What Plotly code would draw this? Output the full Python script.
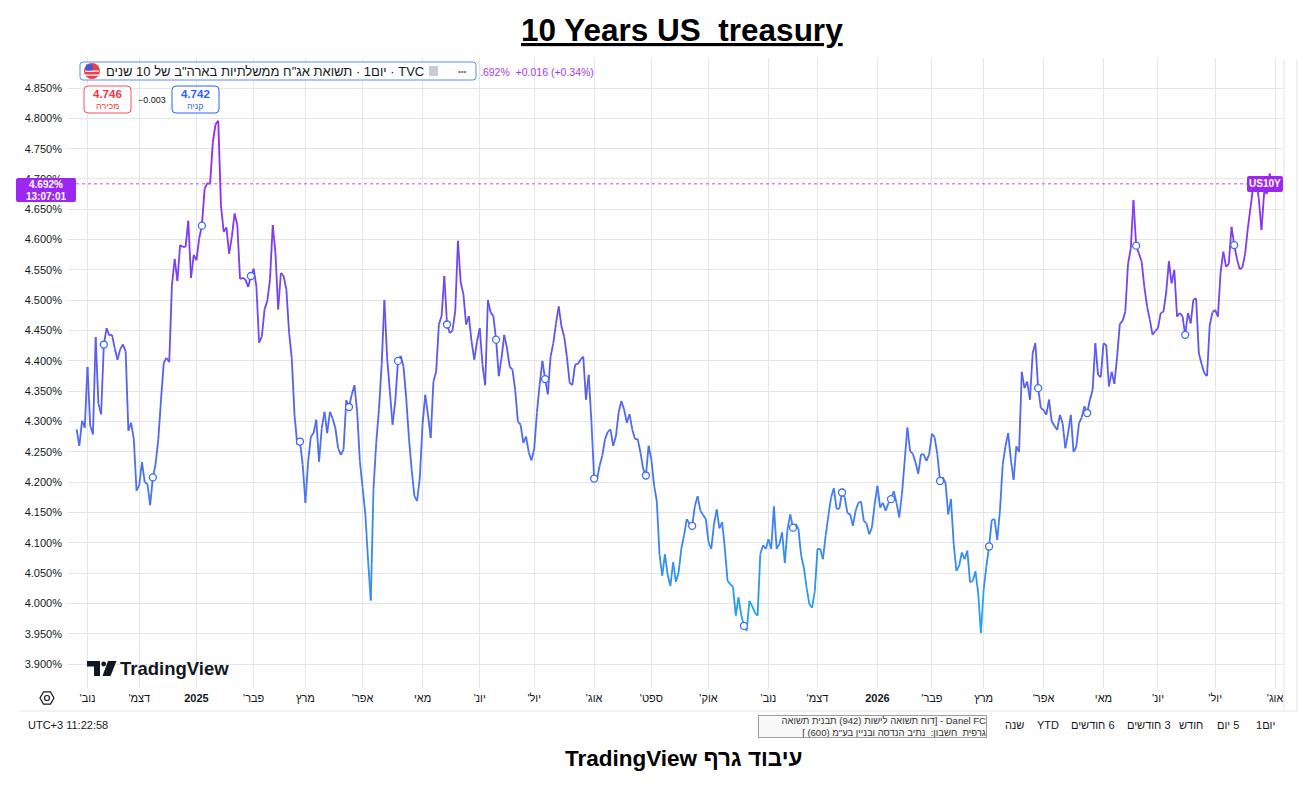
import numpy as np
import pandas as pd
import plotly.graph_objects as go
from plotly.colors import sample_colorscale
from pandas.tseries.holiday import USFederalHolidayCalendar
from pandas.tseries.offsets import CustomBusinessDay

# --- data (daily close, %, one value per trading day) ---
start_date = "2024-10-28"
yields = [
    4.287, 4.260, 4.301, 4.290, 4.390, 4.293, 4.279, 4.439, 4.330, 4.312,
    4.427, 4.454, 4.442, 4.443, 4.421, 4.402, 4.419, 4.427, 4.416, 4.285,
    4.298, 4.271, 4.186, 4.195, 4.233, 4.200, 4.197, 4.162, 4.208, 4.230,
    4.271, 4.337, 4.397, 4.405, 4.398, 4.525, 4.568, 4.532, 4.591, 4.588,
    4.588, 4.631, 4.537, 4.575, 4.566, 4.602, 4.623, 4.684, 4.693, 4.692,
    4.760, 4.790, 4.796, 4.656, 4.613, 4.620, 4.577, 4.605, 4.643, 4.624,
    4.535, 4.537, 4.534, 4.522, 4.540, 4.552, 4.523, 4.430, 4.440, 4.485,
    4.499, 4.534, 4.624, 4.578, 4.485, 4.545, 4.540, 4.518, 4.447, 4.404,
    4.311, 4.262, 4.267, 4.229, 4.166, 4.234, 4.275, 4.281, 4.303, 4.234,
    4.289, 4.316, 4.281, 4.316, 4.305, 4.289, 4.256, 4.245, 4.254, 4.335,
    4.324, 4.344, 4.360, 4.316, 4.234, 4.191, 4.147, 4.071, 4.005, 4.190,
    4.265, 4.320, 4.394, 4.500, 4.405, 4.350, 4.295, 4.334, 4.400, 4.408,
    4.391, 4.339, 4.273, 4.221, 4.177, 4.169, 4.207, 4.295, 4.344, 4.311,
    4.273, 4.366, 4.382, 4.460, 4.474, 4.540, 4.460, 4.446, 4.450, 4.482,
    4.598, 4.530, 4.510, 4.460, 4.474, 4.432, 4.402, 4.432, 4.454, 4.394,
    4.360, 4.500, 4.480, 4.474, 4.435, 4.375, 4.405, 4.443, 4.421, 4.390,
    4.386, 4.353, 4.300, 4.295, 4.265, 4.275, 4.249, 4.236, 4.255, 4.315,
    4.361, 4.400, 4.370, 4.345, 4.407, 4.429, 4.462, 4.490, 4.457, 4.440,
    4.407, 4.364, 4.360, 4.394, 4.395, 4.402, 4.407, 4.336, 4.377, 4.300,
    4.206, 4.203, 4.227, 4.244, 4.271, 4.283, 4.287, 4.260, 4.276, 4.315,
    4.334, 4.320, 4.298, 4.312, 4.287, 4.271, 4.271, 4.249, 4.222, 4.211,
    4.260, 4.238, 4.195, 4.169, 4.081, 4.046, 4.081, 4.047, 4.029, 4.068,
    4.036, 4.051, 4.090, 4.112, 4.139, 4.131, 4.128, 4.161, 4.177, 4.153,
    4.146, 4.139, 4.101, 4.090, 4.131, 4.155, 4.124, 4.134, 4.090, 4.037,
    4.032, 4.027, 3.980, 4.010, 3.981, 3.963, 3.955, 4.004, 3.996, 3.985,
    3.980, 4.081, 4.096, 4.090, 4.106, 4.090, 4.160, 4.090, 4.098, 4.117,
    4.067, 4.123, 4.147, 4.125, 4.131, 4.123, 4.079, 4.059, 4.026, 3.999,
    3.993, 4.020, 4.090, 4.090, 4.073, 4.112, 4.145, 4.175, 4.190, 4.156,
    4.156, 4.183, 4.175, 4.149, 4.147, 4.128, 4.153, 4.166, 4.168, 4.136,
    4.132, 4.114, 4.126, 4.164, 4.194, 4.158, 4.166, 4.153, 4.165, 4.172,
    4.185, 4.166, 4.142, 4.180, 4.235, 4.290, 4.251, 4.247, 4.232, 4.214,
    4.246, 4.246, 4.235, 4.246, 4.280, 4.274, 4.246, 4.202, 4.208, 4.199,
    4.147, 4.172, 4.098, 4.054, 4.062, 4.084, 4.073, 4.087, 4.035, 4.037,
    4.053, 4.017, 3.951, 4.023, 4.061, 4.094, 4.138, 4.139, 4.105, 4.154,
    4.229, 4.259, 4.281, 4.237, 4.204, 4.259, 4.250, 4.382, 4.355, 4.366,
    4.336, 4.413, 4.429, 4.355, 4.322, 4.319, 4.311, 4.336, 4.300, 4.293,
    4.286, 4.311, 4.297, 4.256, 4.281, 4.311, 4.250, 4.258, 4.297, 4.307,
    4.325, 4.314, 4.336, 4.352, 4.429, 4.377, 4.373, 4.429, 4.426, 4.358,
    4.382, 4.362, 4.407, 4.461, 4.466, 4.481, 4.560, 4.585, 4.665, 4.590,
    4.577, 4.564, 4.522, 4.490, 4.468, 4.443, 4.449, 4.454, 4.479, 4.481,
    4.512, 4.564, 4.528, 4.550, 4.473, 4.479, 4.474, 4.443, 4.479, 4.462,
    4.501, 4.503, 4.413, 4.395, 4.380, 4.375, 4.459, 4.480, 4.484, 4.473,
    4.547, 4.580, 4.555, 4.560, 4.621, 4.591, 4.568, 4.551, 4.554, 4.577,
    4.619, 4.654, 4.690, 4.698, 4.668, 4.616, 4.679, 4.676, 4.709, 4.685,
    4.700, 4.692,
]
event_idx = [10, 28, 46, 64, 82, 100, 118, 136, 154, 172, 190, 209,
             226, 245, 263, 281, 299, 317, 335, 353, 371, 389, 407, 425]
last_value = 4.692

month_labels = ["נוב'", "דצמ'", "2025", "פבר'", "מרץ", "אפר'", "מאי", "יונ'",
                "יול'", "אוג'", "ספט'", "אוק'", "נוב'", "דצמ'", "2026", "פבר'",
                "מרץ", "אפר'", "מאי", "יונ'", "יול'", "אוג'"]
y_ticks = [3.90, 3.95, 4.00, 4.05, 4.10, 4.15, 4.20, 4.25, 4.30, 4.35,
           4.40, 4.45, 4.50, 4.55, 4.60, 4.65, 4.70, 4.75, 4.80, 4.85]
y_labels = ["3.900%", "3.950%", "4.000%", "4.050%", "4.100%", "4.150%",
            "4.200%", "4.250%", "4.300%", "4.350%", "4.400%", "4.450%",
            "4.500%", "4.550%", "4.600%", "4.650%", "4.700%", "4.750%",
            "4.800%", "4.850%"]
range_buttons = ["שנה", "YTD", "6 חודשים", "3 חודשים", "חודש", "5 יום", "יום1"]
button_x = [1014, 1048, 1093, 1149, 1191, 1228, 1265]

# trading-day calendar (TradingView skips weekends and holidays)
cal = CustomBusinessDay(calendar=USFederalHolidayCalendar())
dates = pd.date_range(start_date, periods=len(yields), freq=cal)
month_starts = pd.date_range("2024-11-01", "2026-08-01", freq="MS")
tick_idx = [int(np.searchsorted(dates.values, m.to_datetime64())) for m in month_starts]

RLE, PDF = "\u202b", "\u202c"
tick_text = []
for lab in month_labels:
    if lab.isdigit():
        tick_text.append("<b>" + lab + "</b>")
    else:
        tick_text.append(RLE + lab + PDF)

# --- layout helpers (reference pixel -> paper) ---
W, H = 1308, 786
OFF = 8          # page body margin shifts the figure by 8px
L, R, T, B = 68, 1283, 58, 688
FONT = "Liberation Sans, DejaVu Sans, Arial, sans-serif"
INK = "#131722"
PURPLE = "#9c27f0"


def fx(p):
    return (p - L) / (R - L)


def fy(p):
    return (B - p) / (B - T)


def rrect(x0, y0, x1, y1, r=3):
    pts = [f"M{fx(x0 + r)},{fy(y0)}", f"L{fx(x1 - r)},{fy(y0)}",
           f"Q{fx(x1)},{fy(y0)} {fx(x1)},{fy(y0 + r)}",
           f"L{fx(x1)},{fy(y1 - r)}", f"Q{fx(x1)},{fy(y1)} {fx(x1 - r)},{fy(y1)}",
           f"L{fx(x0 + r)},{fy(y1)}", f"Q{fx(x0)},{fy(y1)} {fx(x0)},{fy(y1 - r)}",
           f"L{fx(x0)},{fy(y0 + r)}", f"Q{fx(x0)},{fy(y0)} {fx(x0 + r)},{fy(y0)}", "Z"]
    return " ".join(pts)


def poly(points):
    s = " ".join(("M" if k == 0 else "L") + f"{fx(a)},{fy(b)}" for k, (a, b) in enumerate(points))
    return s + " Z"


fig = go.Figure()

# gradient line: segments binned by level (purple high -> blue low)
x = np.arange(len(yields))
scale = [[0.0, "#1fa8f2"], [0.18, "#3b86f1"], [0.35, "#4c6ff1"],
         [0.55, "#5d58f0"], [0.75, "#7f3cf0"], [1.0, "#a21ff0"]]
lo, hi, nb = 3.95, 4.80, 40
seg_x = [[] for _ in range(nb)]
seg_y = [[] for _ in range(nb)]
for i in range(len(yields) - 1):
    v = (yields[i] + yields[i + 1]) / 2
    t = min(max((v - lo) / (hi - lo), 0), 1)
    b = min(int(t * nb), nb - 1)
    seg_x[b] += [x[i], x[i + 1], None]
    seg_y[b] += [yields[i], yields[i + 1], None]
cols = sample_colorscale(scale, [(b + 0.5) / nb for b in range(nb)])
for b in range(nb):
    if seg_x[b]:
        fig.add_trace(go.Scatter(x=seg_x[b], y=seg_y[b], mode="lines",
                                 line=dict(color=cols[b], width=1.8),
                                 hoverinfo="skip"))

fig.add_trace(go.Scatter(x=event_idx, y=[yields[i] for i in event_idx], mode="markers",
                         marker=dict(size=7, color="white",
                                     line=dict(color="#3d6af2", width=1.3)),
                         hoverinfo="skip"))

shapes = []
ann = []


def text(xp, yp, s, size=11, color=INK, xanchor="center", **kw):
    ann.append(dict(x=fx(xp), y=fy(yp), xref="paper", yref="paper", text=s,
                    showarrow=False, xanchor=xanchor, yanchor="middle",
                    font=dict(family=FONT, size=size, color=color), **kw))


# current price dotted line
shapes.append(dict(type="line", xref="paper", yref="y", x0=fx(76), x1=fx(1247),
                   y0=last_value, y1=last_value,
                   line=dict(color="#b055f0", width=1, dash="dot")))

# top thin line and bottom separator, right border
shapes.append(dict(type="line", xref="paper", yref="paper", x0=fx(80), x1=fx(1290),
                   y0=fy(2), y1=fy(2), line=dict(color="#b7c9e8", width=1)))
shapes.append(dict(type="line", xref="paper", yref="paper", x0=fx(20), x1=fx(1297),
                   y0=fy(711), y1=fy(711), line=dict(color="#e0e3eb", width=1)))
shapes.append(dict(type="line", xref="paper", yref="paper", x0=fx(1284), x1=fx(1284),
                   y0=fy(60), y1=fy(711), line=dict(color="#e0e3eb", width=1)))
shapes.append(dict(type="line", xref="paper", yref="paper", x0=fx(1297), x1=fx(1297),
                   y0=fy(60), y1=fy(711), line=dict(color="#e0e3eb", width=1)))

# legend header box
shapes.append(dict(type="path", xref="paper", yref="paper", path=rrect(80, 62, 476, 80, 3),
                   fillcolor="white", line=dict(color="#5b8def", width=1)))
shapes.append(dict(type="circle", xref="paper", yref="paper", x0=fx(84), x1=fx(100),
                   y0=fy(79), y1=fy(63), fillcolor="#e8424a", line=dict(width=0)))
for yy in (70.5, 74.5):
    shapes.append(dict(type="rect", xref="paper", yref="paper", x0=fx(85), x1=fx(99),
                       y0=fy(yy + 1.3), y1=fy(yy), fillcolor="white", line=dict(width=0)))
shapes.append(dict(type="rect", xref="paper", yref="paper", x0=fx(86), x1=fx(92.5),
                   y0=fy(70.5), y1=fy(64.5), fillcolor="#3b5bdb", line=dict(width=0)))
shapes.append(dict(type="rect", xref="paper", yref="paper", x0=fx(429), x1=fx(438),
                   y0=fy(76), y1=fy(66), fillcolor="#c9ccd3", line=dict(width=0)))
text(104, 71.5, RLE + "TVC · יום1 · תשואת אג\"ח ממשלתיות בארה\"ב של 10 שנים" + PDF,
     size=13, xanchor="left")
text(462, 71, "•••", size=8, color="#6a6d78")
text(478, 71.5, ".692%\u00a0 +0.016 (+0.34%)", size=10.5, color="#a33de8", xanchor="left")

# sell / buy boxes
shapes.append(dict(type="path", xref="paper", yref="paper", path=rrect(84, 86, 131, 113, 4),
                   fillcolor="white", line=dict(color="#f7525f", width=1)))
shapes.append(dict(type="path", xref="paper", yref="paper", path=rrect(172, 86, 219, 113, 4),
                   fillcolor="white", line=dict(color="#2962ff", width=1)))
text(107.5, 94, "<b>4.746</b>", size=11.5, color="#f23645")
text(107.5, 106, "מכירה", size=9, color="#f23645")
text(152, 100, "−0.003", size=9)
text(195.5, 94, "<b>4.742</b>", size=11.5, color="#2962ff")
text(195.5, 106, "קניה", size=9, color="#2962ff")

# current price tags
shapes.append(dict(type="path", xref="paper", yref="paper", path=rrect(16, 178, 76, 202, 2),
                   fillcolor=PURPLE, line=dict(width=0)))
text(46, 184.5, "<b>4.692%</b>", size=10, color="white")
text(46, 196, "<b>13:07:01</b>", size=10, color="white")
shapes.append(dict(type="path", xref="paper", yref="paper", path=rrect(1247, 176, 1283, 192, 2),
                   fillcolor=PURPLE, line=dict(width=0)))
text(1265, 184, "<b>US10Y</b>", size=10, color="white")

# TradingView watermark
shapes.append(dict(type="path", xref="paper", yref="paper",
                   path=poly([(87, 661), (100, 661), (100, 676), (94, 676), (94, 666.5), (87, 666.5)]),
                   fillcolor=INK, line=dict(width=0)))
shapes.append(dict(type="circle", xref="paper", yref="paper", x0=fx(101.3), x1=fx(106.1),
                   y0=fy(666.4), y1=fy(661.6), fillcolor=INK, line=dict(width=0)))
shapes.append(dict(type="path", xref="paper", yref="paper",
                   path=poly([(108, 661), (116.5, 661), (110.5, 676), (102.5, 676)]),
                   fillcolor=INK, line=dict(width=0)))
text(118, 668.5, "<b>TradingView</b>", size=18.5, xanchor="left")

# settings icon
hexpts = [(47 + 7 * np.cos(np.pi / 3 * k), 698 + 7 * np.sin(np.pi / 3 * k)) for k in range(6)]
shapes.append(dict(type="path", xref="paper", yref="paper", path=poly(hexpts),
                   line=dict(color=INK, width=1.2)))
shapes.append(dict(type="circle", xref="paper", yref="paper", x0=fx(44.5), x1=fx(49.5),
                   y0=fy(700.5), y1=fy(695.5), line=dict(color=INK, width=1.2)))

# bottom toolbar
text(26, 725, "UTC+3 11:22:58", size=11, xanchor="left")
tip = (RLE + "Danel FC - [דוח תשואה לישות (942) תבנית תשואה" + PDF + "<br>" +
       RLE + "גרפית\u00a0 חשבון:\u00a0 נתיב הנדסה ובניין בע\"מ (600) ]" + PDF)
ann.append(dict(x=fx(872), y=fy(726.5), xref="paper", yref="paper", text=tip,
                showarrow=False, xanchor="center", yanchor="middle", align="right",
                width=227, height=21, bgcolor="#f9f9f9", bordercolor="#9e9e9e",
                borderwidth=1, borderpad=0,
                font=dict(family=FONT, size=9.5, color="#333333")))
for lab, bx in zip(range_buttons, button_x):
    text(bx, 725, RLE + lab + PDF if not lab.isascii() else lab, size=11)

# title and footer
text(682, 30, "<b><u>10 Years US\u00a0 treasury</u></b>", size=31.5, color="black")
text(683, 758, "<b>" + RLE + "עיבוד גרף TradingView" + PDF + "</b>", size=22.5, color="black")

fig.update_layout(
    width=W, height=H, autosize=False,
    margin=dict(l=L - OFF, r=W - (R - OFF), t=T - OFF, b=H - (B - OFF)),
    paper_bgcolor="white", plot_bgcolor="white",
    showlegend=False, hovermode=False,
    font=dict(family=FONT, size=11, color=INK),
    shapes=shapes, annotations=ann,
    xaxis=dict(range=[-3.16, 442.9], tickmode="array", tickvals=tick_idx,
               ticktext=tick_text, showgrid=True, gridcolor="#e3e5ea", gridwidth=1,
               zeroline=False, showline=False, ticks="", ticklabelstandoff=2,
               tickfont=dict(family=FONT, size=11, color=INK)),
    yaxis=dict(range=[3.8606, 4.8995], tickmode="array", tickvals=y_ticks,
               ticktext=y_labels, showgrid=True, gridcolor="#e3e5ea", gridwidth=1,
               zeroline=False, showline=False, ticks="", ticklabelstandoff=5,
               tickfont=dict(family=FONT, size=11, color=INK)),
)

fig.write_html("out.html")
